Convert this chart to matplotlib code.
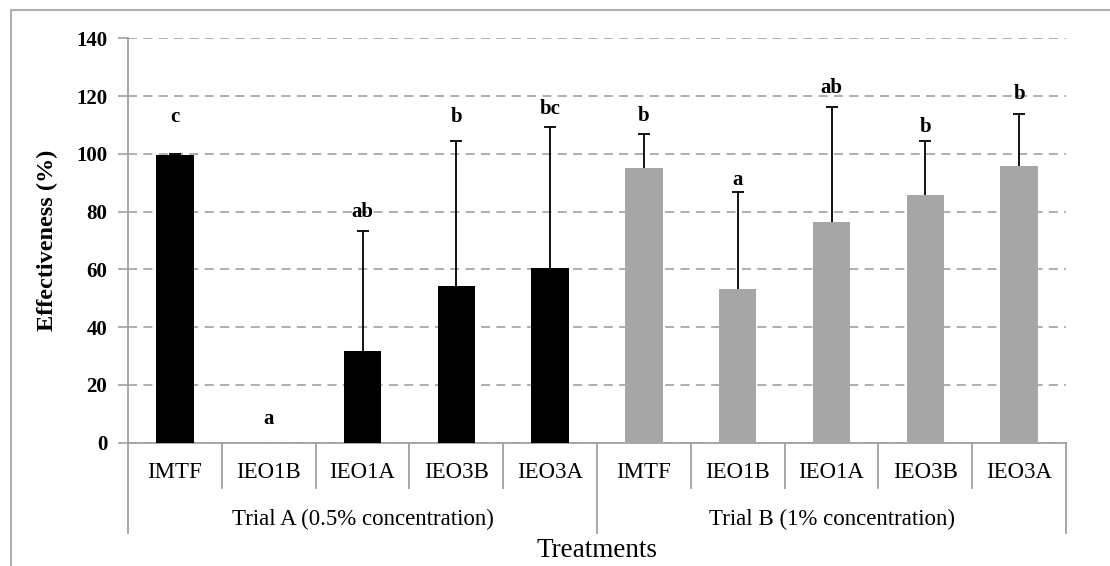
import matplotlib
matplotlib.use("Agg")
import matplotlib.pyplot as plt
import matplotlib.transforms as mtransforms
from matplotlib.lines import Line2D

# ---- data ----
treatments = ["IMTF", "IEO1B", "IEO1A", "IEO3B", "IEO3A",
              "IMTF", "IEO1B", "IEO1A", "IEO3B", "IEO3A"]
groups = ["Trial A (0.5% concentration)", "Trial B (1% concentration)"]
trial_a_values = [99.7, 0.0, 31.6, 54.3, 60.3]
trial_a_errors = [0.3, 0.0, 41.8, 50.1, 48.9]
trial_b_values = [95.2, 53.2, 76.3, 85.8, 95.7]
trial_b_errors = [11.5, 33.5, 39.9, 18.7, 18.2]
trial_a_letters = ["c", "a", "ab", "b", "bc"]
trial_b_letters = ["b", "a", "ab", "b", "b"]
trial_a_letter_y = [112.7, 8.0, 79.8, 112.6, 115.5]
trial_b_letter_y = [113.0, 90.8, 122.9, 109.3, 120.6]
yticks = [0, 20, 40, 60, 80, 100, 120, 140]

plt.rcParams['font.family'] = ['Liberation Serif', 'DejaVu Serif']

W, H = 1110, 566
fig = plt.figure(figsize=(W / 100, H / 100), dpi=100)
ax_l, ax_r, ax_b, ax_t = 128, 1066, 442.5, 38.3
ax = fig.add_axes([ax_l / W, (H - ax_b) / H, (ax_r - ax_l) / W, (ax_b - ax_t) / H])
ax_h_px = ax_b - ax_t

def px_to_axes_y(px_below):
    return -px_below / ax_h_px

n_a = len(trial_a_values)
xa = list(range(n_a))
xb = list(range(n_a, n_a + len(trial_b_values)))
bw = 0.40

ax.bar(xa, trial_a_values, width=bw, color="#000000", linewidth=0, zorder=3)
ax.bar(xb, trial_b_values, width=bw, color="#a6a6a6", linewidth=0, zorder=3)

def upper_errorbars(xs, vals, errs):
    keep = [i for i, e in enumerate(errs) if e > 0]
    xs_k = [xs[i] for i in keep]
    v_k = [vals[i] for i in keep]
    e_k = [errs[i] for i in keep]
    cont = ax.errorbar(xs_k, v_k, yerr=[[0] * len(keep), e_k], fmt="none",
                       ecolor="#000000", elinewidth=1.3, capsize=4, capthick=1.3, zorder=4)
    caps = cont[1]
    if len(caps) == 2:
        caps[0].set_visible(False)

upper_errorbars(xa, trial_a_values, trial_a_errors)
upper_errorbars(xb, trial_b_values, trial_b_errors)

for x, lab, y in zip(xa + xb, trial_a_letters + trial_b_letters,
                     trial_a_letter_y + trial_b_letter_y):
    ax.text(x, y, lab, ha="center", va="center", fontsize=15, fontweight="bold", zorder=5)

ax.set_xlim(-0.5, len(treatments) - 0.5)
ax.set_ylim(0, 140)
ax.set_yticks(yticks)
ax.set_yticklabels([str(t) for t in yticks], fontsize=15, fontweight="bold")
ax.tick_params(axis="y", length=7, width=1.2, color="#a0a0a0", pad=8)
ax.set_xticks([])
ax.yaxis.grid(True, linestyle=(0, (5, 3.5)), color="#a8a8a8", linewidth=1.3, zorder=0)
ax.set_axisbelow(True)
for s in ["top", "right"]:
    ax.spines[s].set_visible(False)
ax.spines["left"].set_color("#a0a0a0")
ax.spines["left"].set_linewidth(1.3)
ax.spines["bottom"].set_color("#a0a0a0")
ax.spines["bottom"].set_linewidth(1.3)

trans = mtransforms.blended_transform_factory(ax.transData, ax.transAxes)
# category separators
for k in range(len(treatments) + 1):
    x = k - 0.5
    depth = 90 if k in (0, n_a, len(treatments)) else 45
    ax.add_line(Line2D([x, x], [0, px_to_axes_y(depth)], transform=trans,
                       color="#a0a0a0", linewidth=1.3, clip_on=False))
for x, lab in zip(xa + xb, treatments):
    ax.text(x, px_to_axes_y(30), lab, transform=trans, ha="center", va="center",
            fontsize=16.5)
group_centers = [(n_a - 1) / 2, n_a + (len(trial_b_values) - 1) / 2]
for x, lab in zip(group_centers, groups):
    ax.text(x, px_to_axes_y(77), lab, transform=trans, ha="center", va="center",
            fontsize=16.5)

ax.text(0.5, px_to_axes_y(108), "Treatments", transform=ax.transAxes, ha="center",
        va="center", fontsize=19.5)
ax.yaxis.set_label_coords(-(ax_l - 47) / (ax_r - ax_l), 0.5)
ax.set_ylabel("Effectiveness (%)", fontsize=17.5, fontweight="bold", va="center")

# outer frame (top and left edges)
fig.add_artist(Line2D([11 / W, 1.0], [(H - 10) / H, (H - 10) / H], transform=fig.transFigure,
                      color="#b0b0b0", linewidth=1.5))
fig.add_artist(Line2D([11 / W, 11 / W], [0, (H - 10) / H], transform=fig.transFigure,
                      color="#b0b0b0", linewidth=1.5))

fig.savefig("out.png", dpi=100, facecolor="white")
